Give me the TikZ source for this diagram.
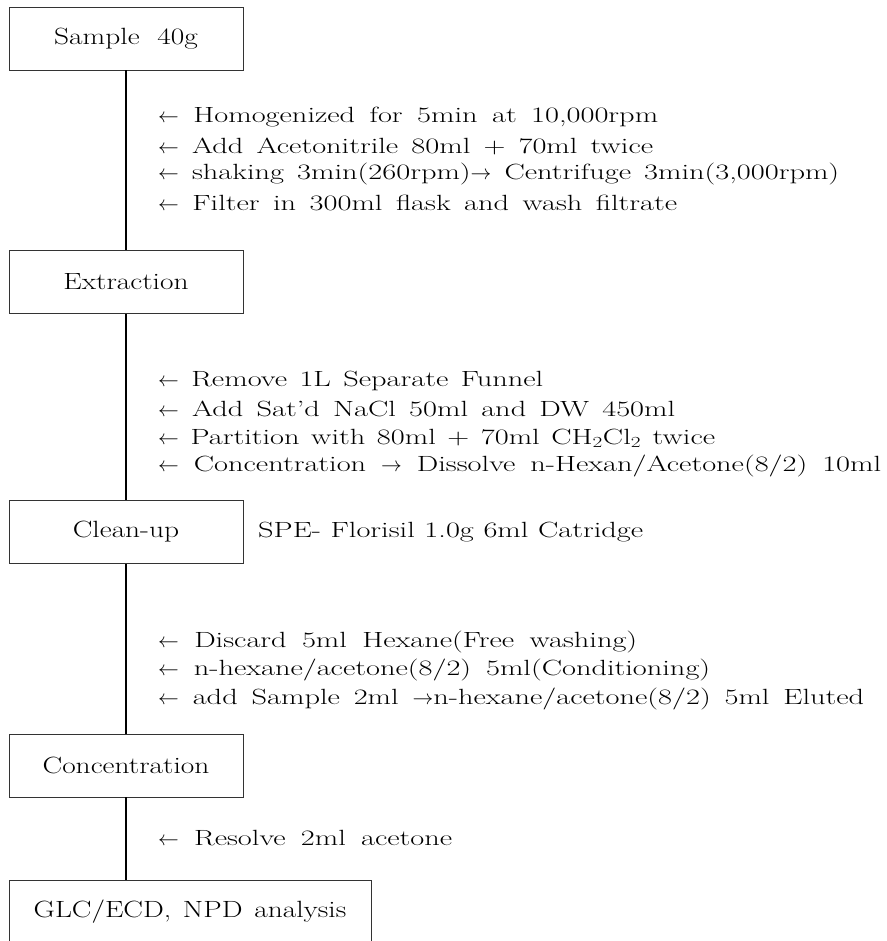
\documentclass[tikz,border=0pt]{standalone}
\usepackage{fontspec}
\setmainfont{Latin Modern Roman}[FakeStretch=1.25]
\newfontfamily\notefont{Latin Modern Roman}[FakeStretch=1.38,Ligatures=TeX]
\newcommand{\widespacing}{\spaceskip=0.42em plus 0.4em minus 0.15em\relax}
% a line of text justified to a given width (interword spaces stretch)
\newcommand{\fitline}[2]{\makebox[#1pt][s]{#2}}
\begin{document}
\begin{tikzpicture}[x=1pt,y=-1pt,
  stepbox/.style={draw=black!80,line width=0.8pt,rectangle,inner sep=0pt,
    minimum height=63pt,font=\fontsize{23.5}{28}\selectfont},
  note/.style={anchor=west,inner sep=0pt,font=\notefont\fontsize{22}{26}\selectfont\widespacing},
  flow/.style={line width=1.6pt,black}]
\useasboundingbox (0,0) rectangle (886,941);
\clip (0,0) rectangle (886,941);

% process boxes
\node[stepbox,minimum width=234pt] (smp) at (126,38.5) {Sample\hspace{0.75em}40g};
\node[stepbox,minimum width=234pt] (ext) at (126,282) {Extraction};
\node[stepbox,minimum width=234pt] (cln) at (126,532) {Clean-up};
\node[stepbox,minimum width=234pt] (cnc) at (126,765.5) {Concentration};
\node[stepbox,minimum width=362pt] (glc) at (190,911.5) {GLC/ECD,\hspace{0.5em}NPD\hspace{0.5em}analysis};

% main flow line
\draw[flow] (smp.south) -- (ext.north);
\draw[flow] (ext.south) -- (cln.north);
\draw[flow] (cln.south) -- (cnc.north);
\draw[flow] (cnc.south) -- (cnc.south |- glc.north);

% extraction steps
\node[note] (a1) at (158,117) {\fitline{500}{$\leftarrow$ Homogenized for 5min at 10,000rpm}};
\node[note] (a2) at (158,146) {\fitline{495}{$\leftarrow$ Add Acetonitrile 80ml + 70ml twice}};
\node[note] (a3) at (158,174) {\fitline{681}{$\leftarrow$ shaking 3min(260rpm)$\rightarrow$ Centrifuge 3min(3,000rpm)}};
\node[note] (a4) at (158,203) {\fitline{519}{$\leftarrow$ Filter in 300ml flask and wash filtrate}};

% partition steps
\node[note] (b1) at (158,381) {\fitline{385}{$\leftarrow$ Remove 1L Separate Funnel}};
\node[note] (b2) at (158,409) {\fitline{517}{$\leftarrow$ Add Sat’d NaCl 50ml and DW 450ml}};
\node[note] (b3) at (158,438) {\fitline{557}{$\leftarrow$ Partition with 80ml + 70ml CH\textsubscript{2}Cl\textsubscript{2} twice}};
\node[note] (b4) at (158,466) {\fitline{723}{$\leftarrow$ Concentration $\rightarrow$ Dissolve n-Hexan/Acetone(8/2) 10ml}};

% cartridge
\node[note] (spe) at (258,532) {\fitline{385}{SPE- Florisil 1.0g 6ml Catridge}};

% clean-up steps
\node[note] (c1) at (158,642) {\fitline{479}{$\leftarrow$ Discard 5ml Hexane(Free washing)}};
\node[note] (c2) at (158,670) {\fitline{552}{$\leftarrow$ n-hexane/acetone(8/2) 5ml(Conditioning)}};
\node[note] (c3) at (158,699) {\fitline{706}{$\leftarrow$ add Sample 2ml $\rightarrow$n-hexane/acetone(8/2) 5ml Eluted}};

% final step
\node[note] (d1) at (158,838) {\fitline{294}{$\leftarrow$ Resolve 2ml acetone}};
\end{tikzpicture}
\end{document}
